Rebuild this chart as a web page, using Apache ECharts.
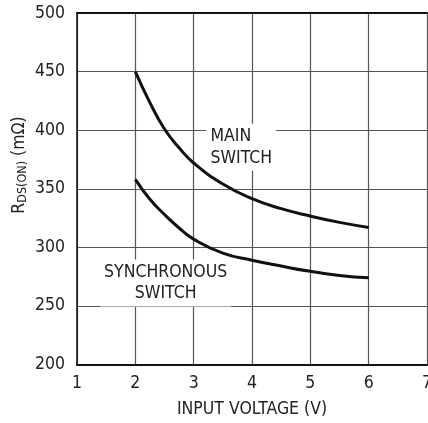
<!DOCTYPE html>
<html>
<head>
<meta charset="utf-8">
<style>
html,body{margin:0;padding:0;background:#fff;}
#chart{width:428px;height:423px;}
</style>
<script src="https://cdn.jsdelivr.net/npm/echarts@6/dist/echarts.min.js"></script>
</head>
<body>
<div id="chart"></div>
<script>
// ---- data ----
const xTicks = [1, 2, 3, 4, 5, 6, 7];
const yTicks = [200, 250, 300, 350, 400, 450, 500];
const mainX = [2, 2.25, 2.5, 2.75, 3, 3.5, 4, 4.5, 5, 5.5, 6];
const mainY = [450, 423.5, 401, 385, 372, 354, 341.5, 333, 326.7, 321.3, 317];
const syncX = [2, 2.25, 2.5, 2.75, 3, 3.5, 4, 4.5, 5, 5.5, 6];
const syncY = [358, 341, 328, 316.5, 307, 295, 289, 284, 279.5, 276, 274];
const mainLabel = 'MAIN\nSWITCH';
const syncLabel = 'SYNCHRONOUS\nSWITCH';
const xName = 'INPUT VOLTAGE (V)';

const FONT = "'DejaVu Sans Condensed','Liberation Sans Narrow',sans-serif";
const FS = 17.5;
const TXT = '#222';
const GRID = '#555';

const chart = echarts.init(document.getElementById('chart'), null, {renderer: 'canvas'});

const zip = (xs, ys) => xs.map((x, i) => [x, ys[i]]);

const labelBox = {
  show: true,
  fontFamily: FONT,
  fontSize: FS,
  color: TXT,
  lineHeight: 21.5,
  backgroundColor: '#fff',
  padding: [2, 4, 2, 4]
};

const option = {
  animation: false,
  backgroundColor: '#fff',
  grid: {left: 77, right: 1, top: 13, bottom: 58.5, containLabel: false, outerBoundsMode: 'none'},
  xAxis: [{
    type: 'value',
    min: xTicks[0], max: xTicks[xTicks.length - 1], interval: 1,
    axisLine: {show: true, onZero: false, lineStyle: {color: '#111', width: 2}},
    axisTick: {show: false},
    axisLabel: {fontFamily: FONT, fontSize: FS, color: TXT, margin: 10, hideOverlap: false},
    splitLine: {show: true, lineStyle: {color: GRID, width: 1.2}},
    name: xName, nameLocation: 'middle', nameGap: 36,
    nameTextStyle: {fontFamily: FONT, fontSize: FS, color: TXT}
  }, {
    type: 'value', position: 'top',
    min: xTicks[0], max: xTicks[xTicks.length - 1], interval: 1,
    axisLine: {show: true, onZero: false, lineStyle: {color: '#111', width: 2}},
    axisTick: {show: false}, axisLabel: {show: false}, splitLine: {show: false}
  }],
  yAxis: {
    type: 'value',
    min: yTicks[0], max: yTicks[yTicks.length - 1], interval: 50,
    axisLine: {show: true, onZero: false, lineStyle: {color: '#111', width: 1.5}},
    axisTick: {show: false},
    axisLabel: {fontFamily: FONT, fontSize: FS, color: TXT, margin: 12},
    splitLine: {show: true, lineStyle: {color: GRID, width: 1.2}}
  },
  graphic: [{
    type: 'text',
    x: 19, y: 165,
    rotation: Math.PI / 2,
    style: {
      text: '{r|R}{s|DS(ON)}{r| (mΩ)}',
      align: 'center', verticalAlign: 'middle',
      fill: TXT,
      rich: {
        r: {fontFamily: FONT, fontSize: FS, lineHeight: 20, fill: TXT},
        s: {fontFamily: FONT, fontSize: 12.5, lineHeight: 12, verticalAlign: 'bottom', fill: TXT}
      }
    }
  }],
  series: [{
    type: 'line',
    data: zip(mainX, mainY),
    smooth: 0.5,
    showSymbol: false,
    symbol: 'none',
    lineStyle: {color: '#111', width: 3},
    z: 3,
    markPoint: {
      symbol: 'circle', symbolSize: 0,
      data: [{coord: [3.22, 385.4], value: 0}],
      label: Object.assign({}, labelBox, {formatter: mainLabel, position: 'inside', align: 'left'})
    }
  }, {
    type: 'line',
    data: zip(syncX, syncY),
    smooth: 0.5,
    showSymbol: false,
    symbol: 'none',
    lineStyle: {color: '#111', width: 3},
    z: 3,
    markPoint: {
      symbol: 'circle', symbolSize: 0,
      data: [{coord: [2.52, 269.6], value: 0}],
      label: Object.assign({}, labelBox, {formatter: syncLabel, position: 'inside', align: 'center'})
    }
  }]
};
chart.setOption(option);
</script>
</body>
</html>
